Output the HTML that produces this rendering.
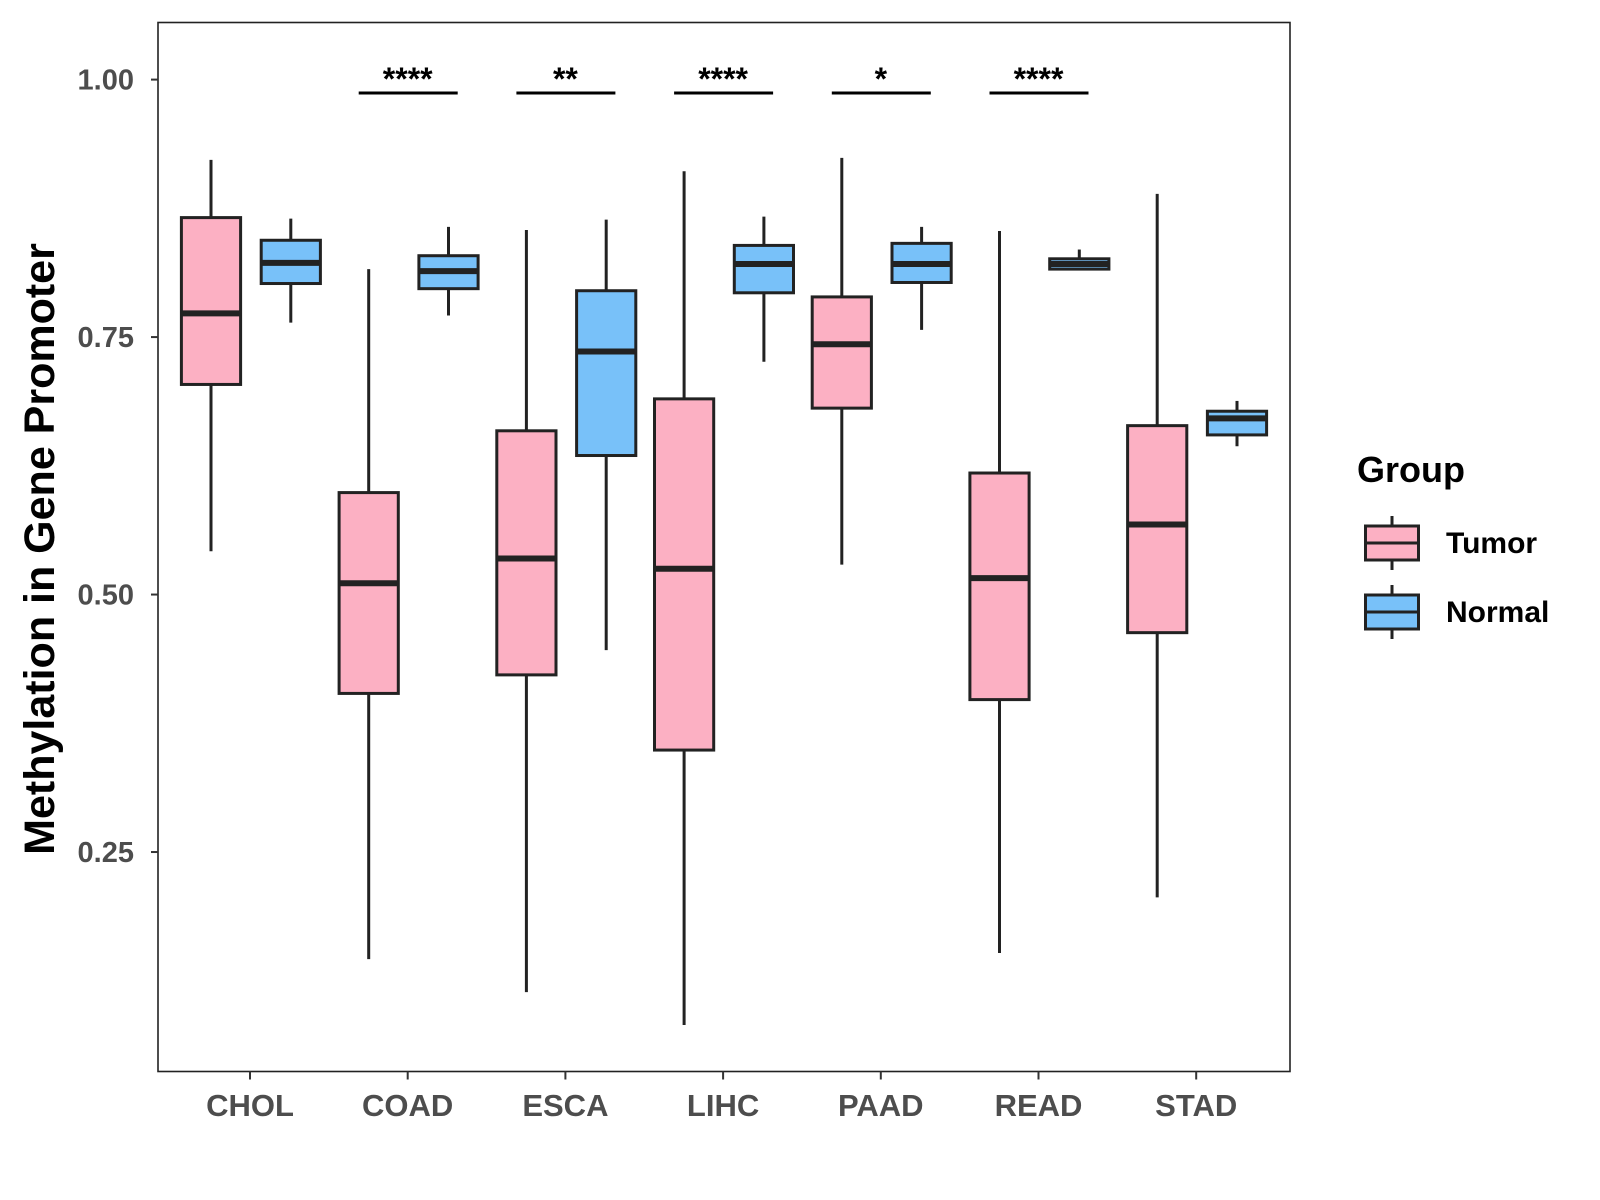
<!DOCTYPE html>
<html><head><meta charset="utf-8"><style>body{margin:0;background:#fff}svg{display:block;font-family:"Liberation Sans",sans-serif}</style></head>
<body>
<svg id="chart" width="1600" height="1200" viewBox="0 0 1600 1200"></svg>
<script>
const categories=["CHOL","COAD","ESCA","LIHC","PAAD","READ","STAD"];
const tumorMin=[0.542,0.146,0.114,0.082,0.529,0.152,0.206];
const tumorQ1=[0.704,0.404,0.422,0.349,0.681,0.398,0.463];
const tumorMed=[0.773,0.511,0.535,0.525,0.743,0.516,0.568];
const tumorQ3=[0.866,0.599,0.659,0.690,0.789,0.618,0.664];
const tumorMax=[0.922,0.816,0.854,0.911,0.924,0.853,0.889];
const normalMin=[0.764,0.771,0.446,0.726,0.757,0.816,0.644];
const normalQ1=[0.802,0.797,0.635,0.793,0.803,0.816,0.655];
const normalMed=[0.822,0.814,0.736,0.821,0.821,0.821,0.671];
const normalQ3=[0.844,0.829,0.795,0.839,0.841,0.826,0.678];
const normalMax=[0.865,0.857,0.864,0.867,0.857,0.835,0.688];
const signif=["","****","**","****","*","****",""];
const yTicks=[0.25,0.5,0.75,1.0];
const yTickLabels=["0.25","0.50","0.75","1.00"];

const NS="http://www.w3.org/2000/svg";
const svg=document.getElementById('chart');
const L=158,R=1290,T=22.5,B=1071.5;
const y=v=>79.6+(1-v)*1029.9;
const x=i=>250+i*157.7;
function mk(tag,attrs,parent){const e=document.createElementNS(NS,tag);for(const k in attrs)e.setAttribute(k,attrs[k]);(parent||svg).appendChild(e);return e;}
const panel=mk('rect',{x:L,y:T,width:R-L,height:B-T,fill:'#fff',stroke:'#222','stroke-width':1.6});


yTicks.forEach((v,i)=>{
  const g=mk('g',{});
  
  
  mk('line',{x1:L-7,x2:L,y1:y(v),y2:y(v),stroke:'#333','stroke-width':2},g);
  const t=mk('text',{x:134,y:y(v)+10,'text-anchor':'end','font-size':29,'font-weight':'bold',fill:'#4d4d4d'},g);t.textContent=yTickLabels[i];
});
function box(cx,mn,q1,md,q3,mx,fill,name){
  const g=mk('g',{});
  
  
  const w=59.2;
  mk('line',{x1:cx,x2:cx,y1:y(mx),y2:y(mn),stroke:'#222','stroke-width':3},g);
  mk('rect',{x:cx-w/2,y:y(q3),width:w,height:Math.max(y(q1)-y(q3),1),fill:fill,stroke:'#222','stroke-width':3},g);
  mk('line',{x1:cx-w/2,x2:cx+w/2,y1:y(md),y2:y(md),stroke:'#222','stroke-width':6},g);
}
categories.forEach((c,i)=>{
  box(x(i)-39,tumorMin[i],tumorQ1[i],tumorMed[i],tumorQ3[i],tumorMax[i],'#fcb0c3','box-tumor-'+c.toLowerCase());
  box(x(i)+40.8,normalMin[i],normalQ1[i],normalMed[i],normalQ3[i],normalMax[i],'#78c1f9','box-normal-'+c.toLowerCase());
  const g=mk('g',{});
  
  
  mk('line',{x1:x(i),x2:x(i),y1:B,y2:B+8,stroke:'#333','stroke-width':2},g);
  const t=mk('text',{x:x(i),y:1116,'text-anchor':'middle','font-size':31,'font-weight':'bold',fill:'#4d4d4d'},g);t.textContent=c;
  if(signif[i]){
    const s=mk('g',{});
    
    
    mk('line',{x1:x(i)-49,x2:x(i)+50,y1:93,y2:93,stroke:'#000','stroke-width':3},s);
    const st=mk('text',{x:x(i),y:90,'text-anchor':'middle','font-size':32,'font-weight':'bold',fill:'#000'},s);st.textContent=signif[i];
  }
});
const yt=mk('text',{x:0,y:0,transform:'translate(54,549) rotate(-90)','text-anchor':'middle','font-size':43,'font-weight':'bold',fill:'#000'});
yt.textContent='Methylation in Gene Promoter';


const lg=mk('g',{});


const lt=mk('text',{x:1357,y:482,'font-size':36,'font-weight':'bold',fill:'#000'},lg);lt.textContent='Group';
[['Tumor','#fcb0c3',543],['Normal','#78c1f9',612]].forEach(([n,f,cy])=>{
  const e=mk('g',{},lg);
  
  
  mk('line',{x1:1392,x2:1392,y1:cy-27,y2:cy+27,stroke:'#222','stroke-width':3},e);
  mk('rect',{x:1365.5,y:cy-17,width:53,height:34,fill:f,stroke:'#222','stroke-width':3},e);
  mk('line',{x1:1365.5,x2:1418.5,y1:cy,y2:cy,stroke:'#222','stroke-width':3},e);
  const t=mk('text',{x:1446,y:cy+10,'font-size':30,'font-weight':'bold',fill:'#000'},e);t.textContent=n;
});
</script>
</body></html>
